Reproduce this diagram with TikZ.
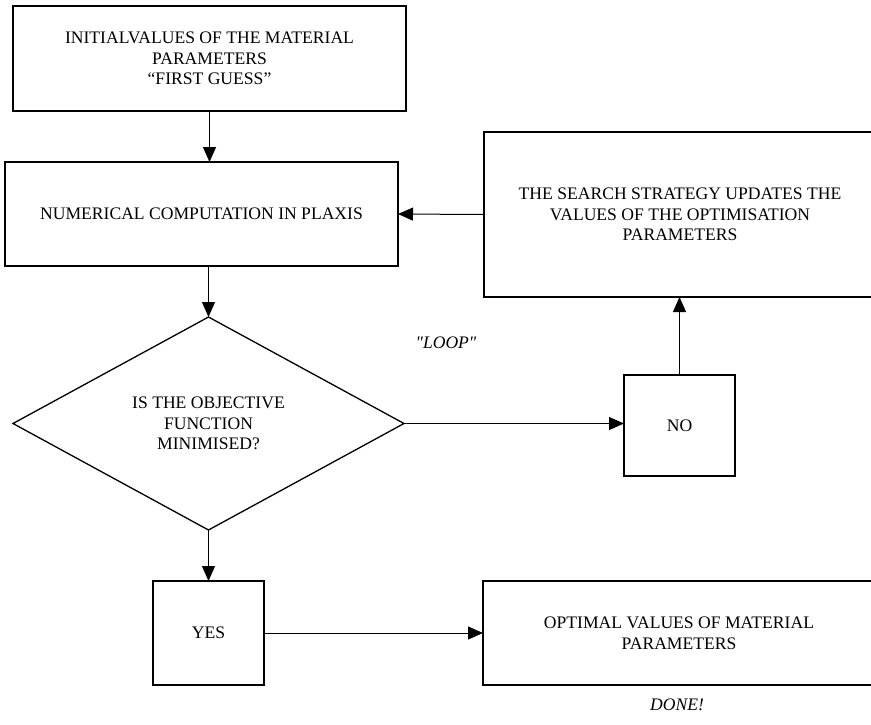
\documentclass[tikz,border=0pt]{standalone}
\usepackage{fontspec}
\setmainfont{Liberation Serif}
\usetikzlibrary{shapes.geometric,arrows.meta}
\begin{document}
\begin{tikzpicture}[x=1pt,y=-1pt,
  every node/.style={font=\fontsize{17.6}{20.5}\selectfont, align=center, inner sep=0pt, outer sep=0pt},
  box/.style={draw, line width=1.6pt, rectangle},
  decision/.style={draw, line width=1.3pt, diamond, aspect=1.84},
  flow/.style={line width=1pt, -{Triangle[length=15pt,width=13pt]}},
  remark/.style={font=\fontsize{17.6}{20.5}\selectfont\itshape}]
\useasboundingbox (0,0) rectangle (871,724);

% process boxes
\node[box, minimum width=393pt, minimum height=105pt] (init) at (209.5,58.5)
  {INITIALVALUES OF THE MATERIAL\\PARAMETERS\\``FIRST GUESS''};
\node[box, minimum width=393pt, minimum height=104pt] (comp) at (201.5,214)
  {NUMERICAL COMPUTATION IN PLAXIS};
\node[box, minimum width=392pt, minimum height=165pt] (search) at (680,214.5)
  {THE SEARCH STRATEGY UPDATES THE\\VALUES OF THE OPTIMISATION\\PARAMETERS};
\node[decision, minimum width=391pt, minimum height=213pt] (test) at (208.5,423.5)
  {IS THE OBJECTIVE\\FUNCTION\\MINIMISED?};
\node[box, minimum width=111pt, minimum height=101pt] (no) at (679.5,425.5) {NO};
\node[box, minimum width=111pt, minimum height=104pt] (yes) at (208.5,633) {YES};
\node[box, minimum width=392pt, minimum height=104pt] (opt) at (679,633)
  {OPTIMAL VALUES OF MATERIAL\\PARAMETERS};

% annotations
\node[remark] (loop) at (446,343) {\textquotedbl LOOP\textquotedbl};
\node[remark] (done) at (677,705) {DONE!};

% connectors
\draw[flow] (init.south) -- (init.south |- comp.north);
\draw[flow] (test.north |- comp.south) -- (test.north);
\draw[flow] (test.south) -- (yes.north);
\draw[flow] (yes.east) -- (opt.west);
\draw[flow] (test.east) -- (test.east -| no.west);
\draw[flow] (no.north) -- (no.north |- search.south);
\draw[flow] (search.west) -- (comp.east);
\end{tikzpicture}
\end{document}
